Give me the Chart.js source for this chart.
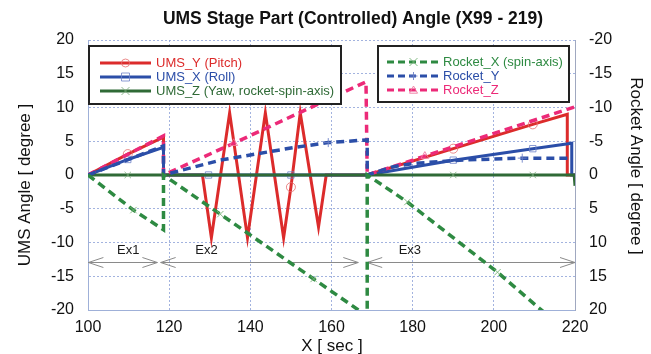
<!DOCTYPE html>
<html><head><meta charset="utf-8">
<script src="https://cdn.jsdelivr.net/npm/chart.js@4.4.1/dist/chart.umd.min.js"></script>
<style>html,body{margin:0;padding:0;background:#fff}#wrap{width:651px;height:354px;position:relative}</style>
</head><body><div id="wrap"><canvas id="c" width="651" height="354"></canvas></div>
<script>
// ---- data (x = sec, y = degree) ----
const UMS_Y = [[100,0],[109.8,3.1],[118.6,5.6],[118.6,0],[128.2,0],[130.4,-9.3],[134.9,9.2],[139.3,-9.3],[143.7,9.2],[148.2,-9.3],[150,-1.8],[152.3,9.2],[156.8,-7.7],[158.7,0],[168.8,0],[190,3.9],[209.6,7.5],[218.1,9.0],[218.1,0],[220,0]];
const UMS_Y_MARKS = [1,10,15,16];
const UMS_X = [[100,0],[109.8,2.3],[118.6,4.1],[118.6,0],[129.7,0],[150,0],[168.8,0],[190,2.2],[209.6,3.9],[219.2,4.7],[219.2,0],[220,0]];
const UMS_X_MARKS = [1,4,5,7,8];
const UMS_Z = [[100,0],[109.8,0],[190,0],[209.6,0],[219.8,0],[220,-1.6]];
const UMS_Z_MARKS = [1,2,3];
const ROCKET_X = [[100,0],[111.2,5.2],[118.6,8.1],[118.6,0],[132.6,5.8],[155.6,15.4],[168.8,20.9],[168.8,0],[178.7,4.0],[200.9,14.4],[211.3,19.8],[220,24]];
const ROCKET_X_MARKS = [1,4,5,8,9];
const ROCKET_Y = [[100,0],[118.6,-4.3],[118.6,0],[132.6,-2.2],[150,-4.0],[159.2,-4.8],[168.8,-5.2],[168.8,0],[175,-1.2],[180,-1.7],[191.6,-2.2],[207,-2.5],[218.6,-2.5]];
const ROCKET_Y_MARKS = [5,11];
const ROCKET_Z = [[100,0],[118.6,-5.8],[118.6,0],[135.9,-4.7],[168.5,-13.8],[168.8,0],[183,-2.8],[220,-10.1]];
const ROCKET_Z_MARKS = [3,6];
const EX_LABELS = ['Ex1','Ex2','Ex3'];
const EX_SPANS = [[100.1,117.1],[117.9,166.6],[168.8,220]];
const EX_LABEL_X = [109.9,129.2,179.3];
const EX_ARROW_Y = -12.9, EX_LABEL_Y = -11.1;
const TITLE = 'UMS Stage Part (Controlled) Angle (X99 - 219)';
const X_TITLE = 'X [ sec ]', Y_TITLE = 'UMS Angle [ degree ]', Y2_TITLE = 'Rocket Angle [ degree ]';

const FONT = '"Liberation Sans", Arial, Helvetica, sans-serif';
const RED='#dc2b2b', BLUE='#2b4ea8', DGREEN='#2f6a36', GREEN='#2e8a42', PINK='#ec2a78';

function pts(a){ return a.map(p=>({x:p[0],y:p[1]})); }
function ds(label, arr, marks, color, axis, dashed, style, mcolor, order){
  return {label, data:pts(arr), yAxisID:axis, borderColor:color, borderWidth: dashed?3.5:3,
    borderDash: dashed?[8,5]:[], tension:0, fill:false, order,
    pointStyle: style, pointBackgroundColor:'rgba(0,0,0,0)', pointBorderColor:mcolor, pointBorderWidth:1,
    pointRadius: c => marks.includes(c.dataIndex) ? 4.5 : 0, pointHoverRadius:0};
}

function drawMarker(ctx, style, x, y, r, color){
  ctx.save(); ctx.strokeStyle=color; ctx.lineWidth=1; ctx.setLineDash([]); ctx.beginPath();
  if(style==='circle'){ ctx.arc(x,y,r,0,Math.PI*2); }
  else if(style==='rect'){ ctx.rect(x-r,y-r,2*r,2*r); }
  else if(style==='crossRot'){ ctx.moveTo(x-r,y-r);ctx.lineTo(x+r,y+r);ctx.moveTo(x+r,y-r);ctx.lineTo(x-r,y+r); }
  else if(style==='cross'){ ctx.moveTo(x-r,y);ctx.lineTo(x+r,y);ctx.moveTo(x,y-r);ctx.lineTo(x,y+r); }
  else if(style==='triangle'){ ctx.moveTo(x,y-r);ctx.lineTo(x+r,y+r*0.8);ctx.lineTo(x-r,y+r*0.8);ctx.closePath(); }
  ctx.stroke(); ctx.restore();
}

const overlay = {
  id:'overlay',
  beforeDatasetsDraw(chart){
    const ctx=chart.ctx, xs=chart.scales.x, ys=chart.scales.y;
    ctx.save();
    ctx.strokeStyle='#8a8a8a'; ctx.lineWidth=1; ctx.setLineDash([]);
    const yy=Math.round(ys.getPixelForValue(EX_ARROW_Y))+0.5;
    EX_SPANS.forEach(s=>{
      const a=xs.getPixelForValue(s[0]), b=xs.getPixelForValue(s[1]);
      ctx.beginPath(); ctx.moveTo(a,yy); ctx.lineTo(b,yy);
      ctx.moveTo(a+15,yy-5); ctx.lineTo(a,yy); ctx.lineTo(a+15,yy+5);
      ctx.moveTo(b-15,yy-5); ctx.lineTo(b,yy); ctx.lineTo(b-15,yy+5);
      ctx.stroke();
    });
    ctx.fillStyle='#1a1a1a'; ctx.font='13px '+FONT; ctx.textAlign='center'; ctx.textBaseline='middle';
    EX_LABELS.forEach((t,i)=>ctx.fillText(t, xs.getPixelForValue(EX_LABEL_X[i]), ys.getPixelForValue(EX_LABEL_Y)));
    ctx.restore();
  },
  afterDatasetsDraw(chart){
    const ctx=chart.ctx;
    ctx.save();
    ctx.fillStyle='#fff'; ctx.fillRect(88,45,254,60);
    ctx.strokeStyle='#222'; ctx.lineWidth=2; ctx.strokeRect(89,46,252,58);
    ctx.fillRect(377,45,193,58); ctx.strokeRect(378,46,191,56);
    ctx.font='13px '+FONT; ctx.textAlign='left'; ctx.textBaseline='middle';
    const L=[['UMS_Y (Pitch)',RED,'circle','rgba(230,110,110,0.8)'],['UMS_X (Roll)',BLUE,'rect','rgba(110,130,200,0.8)'],['UMS_Z (Yaw, rocket-spin-axis)',DGREEN,'crossRot','rgba(120,170,120,0.8)']];
    L.forEach((e,i)=>{
      const y=63+i*14;
      ctx.strokeStyle=e[1]; ctx.lineWidth=3; ctx.setLineDash([]);
      ctx.beginPath(); ctx.moveTo(100,y); ctx.lineTo(151,y); ctx.stroke();
      drawMarker(ctx,e[2],125.5,y,4,e[3]);
      ctx.fillStyle=e[1]; ctx.fillText(e[0],156,y);
    });
    const R=[['Rocket_X (spin-axis)',GREEN,'crossRot','rgba(120,180,120,0.9)'],['Rocket_Y',BLUE,'cross','rgba(110,130,200,0.9)'],['Rocket_Z',PINK,'triangle','rgba(240,120,160,0.9)']];
    R.forEach((e,i)=>{
      const y=62+i*14;
      ctx.strokeStyle=e[1]; ctx.lineWidth=3; ctx.setLineDash([7,4]);
      ctx.beginPath(); ctx.moveTo(387,y); ctx.lineTo(440,y); ctx.stroke();
      ctx.setLineDash([]);
      drawMarker(ctx,e[2],413.5,y,4,e[3]);
      ctx.fillStyle=e[1]; ctx.fillText(e[0],443,y);
    });
    ctx.restore();
  },
  afterDraw(chart){
    const ctx=chart.ctx;
    ctx.save(); ctx.fillStyle='#111'; ctx.textAlign='center'; ctx.textBaseline='middle';
    ctx.font='bold 17.5px '+FONT; ctx.fillText(TITLE,353,19);
    ctx.font='17px '+FONT; ctx.fillText(X_TITLE,332,346);
    ctx.save(); ctx.translate(25,185); ctx.rotate(-Math.PI/2); ctx.fillText(Y_TITLE,0,0); ctx.restore();
    ctx.save(); ctx.translate(636,166); ctx.rotate(Math.PI/2); ctx.fillText(Y2_TITLE,0,0); ctx.restore();
    ctx.restore();
  }
};

const gridCol='rgba(140,160,215,0.8)';
new Chart(document.getElementById('c'), {
  type:'line',
  data:{datasets:[
    ds('Rocket_X (spin-axis)',ROCKET_X,ROCKET_X_MARKS,GREEN,'y2',true,'crossRot','rgba(120,180,120,0.9)',1),
    ds('Rocket_Y',ROCKET_Y,ROCKET_Y_MARKS,BLUE,'y2',true,'cross','rgba(110,130,200,0.9)',2),
    ds('Rocket_Z',ROCKET_Z,ROCKET_Z_MARKS,PINK,'y2',true,'triangle','rgba(240,120,160,0.9)',3),
    ds('UMS_Z (Yaw, rocket-spin-axis)',UMS_Z,UMS_Z_MARKS,DGREEN,'y',false,'crossRot','rgba(120,170,120,0.8)',4),
    ds('UMS_X (Roll)',UMS_X,UMS_X_MARKS,BLUE,'y',false,'rect','rgba(110,130,200,0.8)',5),
    ds('UMS_Y (Pitch)',UMS_Y,UMS_Y_MARKS,RED,'y',false,'circle','rgba(230,110,110,0.8)',6)
  ]},
  options:{
    responsive:false, animation:false, devicePixelRatio:1,
    layout:{padding:{top:40,left:0,right:0,bottom:0}},
    plugins:{legend:{display:false}, title:{display:false}, tooltip:{enabled:false}},
    scales:{
      x:{type:'linear', min:100, max:220,
        ticks:{stepSize:20, color:'#111', font:{family:FONT,size:16}, padding:8, maxRotation:0},
        grid:{color:gridCol, drawTicks:false, lineWidth:1},
        border:{display:true,color:'#9fb0d8',width:1, dash:[2,2]},
        afterFit(s){ s.height=44; }},
      y:{type:'linear', position:'left', min:-20, max:20,
        ticks:{stepSize:5, color:'#111', font:{family:FONT,size:16}, padding:14},
        grid:{color:gridCol, drawTicks:false, lineWidth:1},
        border:{display:true,color:'#9fb0d8',width:1, dash:[2,2]},
        afterFit(s){ s.width=88; }},
      y2:{type:'linear', position:'right', min:-20, max:20, reverse:true,
        ticks:{stepSize:5, color:'#111', font:{family:FONT,size:16}, padding:14},
        grid:{display:false, drawTicks:false},
        border:{display:true,color:'#a0a8c0',width:1},
        afterFit(s){ s.width=76; }}
    }
  },
  plugins:[overlay]
});
</script></body></html>
